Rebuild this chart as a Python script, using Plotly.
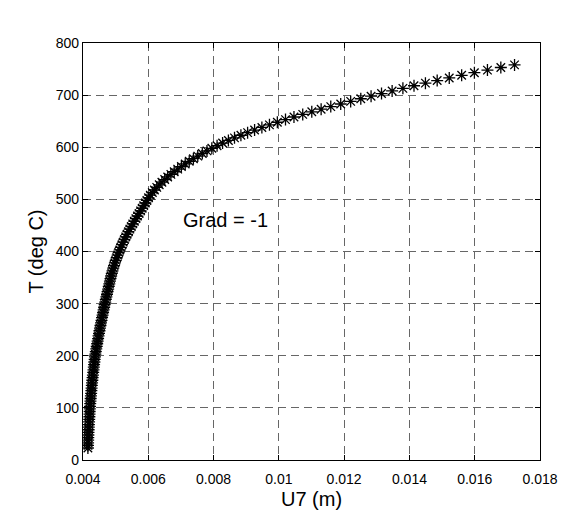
import plotly.graph_objects as go

# Temperature (deg C) at each sample
temp_c = [23, 28, 33, 38, 43, 48, 53, 58, 63, 68, 73, 78, 83, 88, 93, 98,
          103, 108, 113, 118, 123, 128, 133, 138, 143, 148,
          153, 158, 163, 168, 173, 178, 183, 188, 193, 198,
          203, 208, 213, 218, 223, 228, 233, 238, 243, 248,
          253, 258, 263, 268, 273, 278, 283, 288, 293, 298,
          303, 308, 313, 318, 323, 328, 333, 338, 343, 348,
          353, 358, 363, 368, 373, 378, 383, 388, 393, 398,
          403, 408, 413, 418, 423, 428, 433, 438, 443, 448,
          453, 458, 463, 468, 473, 478, 483, 488, 493, 498,
          503, 508, 513, 518, 523, 528, 533, 538, 543, 548, 553, 558,
          563, 568, 573, 578, 583, 588, 593, 598,
          603, 608, 613, 618, 623, 628, 633, 638, 643,
          648, 653, 658, 663, 668, 673, 678, 683,
          688, 693, 698, 703, 708, 713,
          718, 723, 728, 733, 738, 743, 748, 753, 758]

# Displacement U7 (m) at each sample
u7_m = [0.0041500, 0.0041528, 0.0041556, 0.0041583, 0.0041611, 0.0041639,
        0.0041677, 0.0041722, 0.0041767, 0.0041812, 0.0041857, 0.0041902,
        0.0041947, 0.0041992, 0.0042037, 0.0042082,
        0.0042142, 0.0042212, 0.0042282, 0.0042352, 0.0042422, 0.0042492,
        0.0042562, 0.0042632, 0.0042702, 0.0042772,
        0.0042854, 0.0042944, 0.0043034, 0.0043124, 0.0043214, 0.0043304,
        0.0043394, 0.0043484, 0.0043574, 0.0043664,
        0.0043784, 0.0043924, 0.0044064, 0.0044204, 0.0044344, 0.0044484,
        0.0044624, 0.0044764, 0.0044904, 0.0045044,
        0.0045196, 0.0045356, 0.0045516, 0.0045676, 0.0045836, 0.0045996,
        0.0046156, 0.0046316, 0.0046476, 0.0046636,
        0.0046808, 0.0046988, 0.0047168, 0.0047348, 0.0047528, 0.0047708,
        0.0047888, 0.0048068, 0.0048248, 0.0048428,
        0.0048618, 0.0048822, 0.0049038, 0.0049269, 0.0049513, 0.0049771,
        0.0050042, 0.0050326, 0.0050624, 0.0050936,
        0.0051261, 0.0051599, 0.0051952, 0.0052317, 0.0052696, 0.0053089,
        0.0053495, 0.0053914, 0.0054347, 0.0054794,
        0.0055254, 0.0055734, 0.0056214, 0.0056694, 0.0057174, 0.0057654,
        0.0058134, 0.0058614, 0.0059094, 0.0059574,
        0.0060074, 0.0060626, 0.0061230, 0.0061886, 0.0062594, 0.0063354,
        0.0064167, 0.0065032, 0.0065949, 0.0066918, 0.0067939, 0.0069012,
        0.0070137, 0.0071314, 0.0072543, 0.0073824, 0.0075157, 0.0076543,
        0.0077981, 0.0079471,
        0.0081071, 0.0082761, 0.0084542, 0.0086413, 0.0088374, 0.0090425,
        0.0092567, 0.0094799, 0.0097121,
        0.0099533, 0.0102036, 0.0104629, 0.0107312, 0.0110085, 0.0112949,
        0.0115903, 0.0118947,
        0.0122000, 0.0125100, 0.0128250, 0.0131450, 0.0134700, 0.0138000,
        0.0141400, 0.0144900, 0.0148500, 0.0152200, 0.0156000, 0.0159900,
        0.0163900, 0.0168000, 0.0172200]

x_ticks = [0.004, 0.006, 0.008, 0.01, 0.012, 0.014, 0.016, 0.018]
x_tick_labels = ["0.004", "0.006", "0.008", "0.01", "0.012", "0.014", "0.016", "0.018"]
y_ticks = [0, 100, 200, 300, 400, 500, 600, 700, 800]
y_tick_labels = ["0", "100", "200", "300", "400", "500", "600", "700", "800"]

annotation_text = "Grad = -1"
annotation_pos = (0.00838, 460)

FONT = "Liberation Sans, Arial, sans-serif"

fig = go.Figure()
fig.add_trace(go.Scatter(
    x=u7_m, y=temp_c, mode="markers",
    marker=dict(symbol="asterisk-open", size=10, color="black",
                line=dict(color="black", width=1.3)),
    showlegend=False,
))

fig.add_annotation(x=annotation_pos[0], y=annotation_pos[1], text=annotation_text,
                   showarrow=False, xanchor="center", yanchor="middle",
                   font=dict(family=FONT, size=20, color="black"))

axis_common = dict(
    showline=True, linecolor="black", linewidth=1.2, mirror="all",
    ticks="inside", ticklen=5, tickcolor="black",
    showgrid=True, gridcolor="#666666", gridwidth=1, griddash="8px,5px",
    zeroline=False,
    tickfont=dict(family=FONT, size=14, color="black"),
)

fig.update_xaxes(range=[0.004, 0.018], tickvals=x_ticks, ticktext=x_tick_labels,
                 ticklabelstandoff=6,
                 title=dict(text="U7 (m)", font=dict(family=FONT, size=20, color="black"),
                            standoff=6),
                 **axis_common)
fig.update_yaxes(range=[0, 800], tickvals=y_ticks, ticktext=y_tick_labels,
                 title=dict(text="T (deg C)", font=dict(family=FONT, size=20, color="black"),
                            standoff=6),
                 **axis_common)

fig.update_layout(
    width=583, height=531,
    margin=dict(l=83, r=43, t=43, b=71, autoexpand=False),
    paper_bgcolor="white", plot_bgcolor="white",
    font=dict(family=FONT, color="black"),
)

fig.write_html("out.html")
